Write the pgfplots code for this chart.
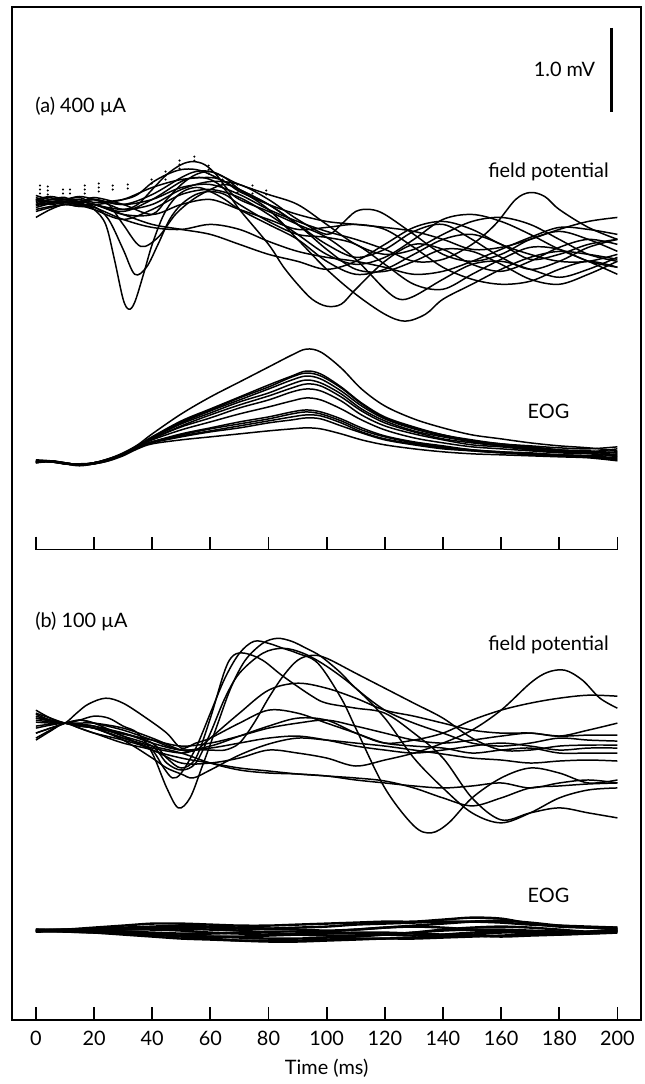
\documentclass[border=0pt]{standalone}
\usepackage{fontspec}
\setmainfont{Lato}
\usepackage{pgfplots}
\pgfplotsset{compat=1.18}
\pgfplotsset{tr/.style={black, line width=0.75pt, smooth, tension=0.55, mark=none},
  te/.style={black, line width=1.2pt, smooth, tension=0.5, mark=none}}
\begin{document}
\begin{tikzpicture}
\begin{axis}[
  width=315.5bp, height=508bp, scale only axis,
  xmin=-8.233, xmax=208.233, ymin=7, ymax=1023, y dir=reverse,
  clip=false,
  axis line style={line width=0.9pt},
  xtick={0,20,...,200}, ytick=\empty,
  xtick pos=bottom, tick align=inside,
  major tick length=6.5bp,
  tick style={line width=0.9pt, black},
  xticklabel style={font=\fontsize{10}{12}\selectfont, yshift=-2bp},
  /pgf/number format/assume math mode=true,
  xlabel={Time (ms)},
  xlabel style={font=\fontsize{10}{12}\selectfont, at={(axis description cs:0.5,0)}, anchor=center, yshift=-24bp},
]
\path (axis cs:-12.35,0) rectangle (axis cs:209.26,1084);
% scale bar and middle time scale
\draw[line width=1.5bp] (axis cs:197.9,28) -- (axis cs:197.9,112);
\draw[line width=0.9pt] (axis cs:0,538) -- (axis cs:0,551) -- (axis cs:200,551) -- (axis cs:200,538);
\pgfplotsinvokeforeach{20,40,60,80,100,120,140,160,180}{\draw[line width=0.9pt] (axis cs:#1,551) -- (axis cs:#1,538);}
% labels
\node[inner sep=0, font=\fontsize{10}{12}\selectfont] at (axis cs:181.8,70) {1.0 mV};
\node[inner sep=0, anchor=west, font=\fontsize{10}{12}\selectfont] at (axis cs:-0.34,107) {(a) 400 µA};
\node[inner sep=0, font=\fontsize{10}{12}\selectfont] at (axis cs:176.3,172) {field potential};
\node[inner sep=0, font=\fontsize{10}{12}\selectfont] at (axis cs:176.3,412) {EOG};
\node[inner sep=0, anchor=west, font=\fontsize{10}{12}\selectfont] at (axis cs:-0.34,623) {(b) 100 µA};
\node[inner sep=0, font=\fontsize{10}{12}\selectfont] at (axis cs:176.3,647) {field potential};
\node[inner sep=0, font=\fontsize{10}{12}\selectfont] at (axis cs:176.3,898) {EOG};

% stimulus artefact dots in (a)
\addplot[only marks, mark=*, mark size=0.3pt, black] coordinates {(1.4,186)(1.4,190)(1.4,194)(4.1,187)(4.1,191)(4.1,195)(9.3,190)(9.3,194)(11.7,190)(11.7,194)(16.8,186)(16.8,190)(16.8,194)(21.6,184)(21.6,188)(21.6,192)(26.4,186)(26.4,190)(31.6,185)(31.6,189)(39.8,180)(39.8,184)(44.6,172)(44.6,176)(44.6,180)(49.4,161)(49.4,165)(49.4,169)(54.5,157)(54.5,161)(59.4,166)(59.4,170)(59.4,174)(64.2,180)(64.2,184)(69.3,185)(69.3,189)(69.3,193)(74.5,186)(74.5,190)(74.5,194)(79.2,191)(79.2,195)};

% (a) field potential
\addplot[tr] coordinates {(0,205)(5,203)(10,200)(15,203)(20,210)(24,225)(27,260)(30,300)(32,310)(34,303)(37,275)(40,245)(44,215)(48,198)(52,190)(56,188)(60,192)(65,200)(70,210)(80,225)(90,240)(100,262)(110,275)(120,270)(130,255)(140,240)(150,235)(160,245)(170,260)(180,255)(190,245)(200,240)};
\addplot[tr] coordinates {(0,200)(5,205)(10,203)(15,205)(20,207)(25,220)(30,250)(34,275)(38,268)(42,245)(46,220)(50,205)(55,195)(60,192)(65,195)(70,205)(80,222)(90,235)(100,238)(110,245)(120,265)(130,285)(140,290)(150,275)(160,260)(170,248)(180,250)(190,262)(200,268)};
\addplot[tr] coordinates {(0,210)(5,207)(10,205)(15,203)(20,200)(25,205)(30,225)(36,247)(42,238)(48,215)(54,200)(60,190)(65,185)(70,190)(80,205)(90,225)(100,245)(110,258)(120,250)(130,232)(140,225)(150,240)(160,258)(170,270)(180,262)(190,248)(200,240)};
\addplot[tr] coordinates {(0,198)(5,202)(10,200)(15,197)(20,200)(25,205)(30,210)(35,205)(40,190)(45,175)(50,165)(54,162)(58,165)(62,175)(66,190)(70,200)(80,212)(90,225)(100,238)(110,260)(120,290)(125,300)(130,297)(140,280)(150,265)(160,262)(170,270)(180,278)(190,270)(200,258)};
\addplot[tr] coordinates {(0,205)(5,200)(10,200)(15,206)(20,205)(30,215)(40,215)(45,200)(50,185)(55,175)(60,172)(65,178)(70,190)(80,210)(90,240)(100,270)(110,295)(120,315)(127,322)(134,315)(140,300)(150,285)(160,270)(170,258)(180,252)(190,255)(200,260)};
\addplot[tr] coordinates {(0,208)(5,204)(10,200)(15,202)(20,205)(30,212)(40,200)(50,182)(55,178)(60,180)(65,190)(70,210)(80,245)(85,267)(90,285)(95,300)(100,307)(105,305)(110,290)(120,262)(130,245)(140,250)(150,265)(160,272)(170,262)(180,248)(190,240)(200,245)};
\addplot[tr] coordinates {(0,202)(5,198)(10,205)(15,202)(20,200)(30,205)(40,200)(50,188)(60,185)(70,195)(80,210)(90,222)(100,232)(110,240)(120,250)(130,262)(140,260)(150,245)(158,225)(165,200)(170,193)(175,197)(180,210)(190,228)(200,240)};
\addplot[tr] coordinates {(0,200)(5,203)(10,202)(15,200)(20,205)(30,210)(40,205)(50,190)(60,182)(70,185)(80,200)(90,220)(100,235)(105,225)(110,212)(115,210)(120,215)(130,235)(140,255)(150,262)(160,255)(170,240)(180,232)(190,240)(200,252)};
\addplot[tr] coordinates {(0,203)(5,200)(10,198)(15,204)(20,200)(30,205)(40,195)(50,178)(55,172)(60,172)(65,178)(70,185)(80,195)(90,205)(100,225)(110,245)(120,255)(130,250)(140,235)(150,222)(160,218)(170,225)(180,240)(190,255)(200,262)};
\addplot[tr] coordinates {(0,196)(5,200)(10,200)(15,198)(20,203)(30,200)(35,195)(40,183)(45,175)(50,170)(55,170)(60,175)(70,190)(80,205)(90,225)(100,250)(110,270)(120,272)(130,262)(140,250)(150,252)(160,265)(170,280)(180,285)(190,275)(200,262)};
\addplot[tr] coordinates {(0,212)(5,208)(10,205)(15,207)(20,208)(30,220)(40,228)(50,230)(60,225)(70,230)(80,242)(90,252)(100,258)(110,262)(120,268)(130,275)(140,272)(150,262)(160,250)(170,238)(180,228)(190,230)(200,235)};
\addplot[tr] coordinates {(0,200)(5,197)(10,200)(15,203)(20,198)(30,205)(40,215)(50,205)(60,200)(70,210)(80,220)(90,230)(100,228)(110,225)(120,230)(130,248)(140,268)(150,280)(160,285)(170,282)(180,270)(190,262)(200,268)};
\addplot[tr] coordinates {(0,206)(5,204)(10,203)(15,206)(20,210)(30,220)(40,210)(50,195)(60,190)(70,198)(80,215)(90,235)(100,255)(110,265)(120,258)(130,240)(140,220)(150,215)(160,222)(170,235)(180,250)(190,262)(200,275)};
\addplot[tr] coordinates {(0,218)(5,210)(10,205)(15,207)(20,205)(30,215)(40,225)(50,230)(60,235)(70,245)(80,255)(90,262)(100,270)(110,262)(120,245)(130,228)(140,222)(150,230)(160,245)(170,255)(180,262)(190,262)(200,255)};
\addplot[tr] coordinates {(0,200)(5,202)(10,202)(15,200)(20,205)(30,200)(40,188)(50,180)(60,178)(65,182)(70,192)(80,205)(90,215)(100,222)(110,225)(120,228)(130,232)(140,240)(150,250)(160,248)(170,240)(180,230)(190,222)(200,218)};

% (a) EOG
\addplot[tr] coordinates {(0,462)(5,463)(10,465)(15,466)(20,464)(25,460)(30,454)(35,446)(40,435)(50,415)(60,398)(70,383)(80,368)(88,356)(93,350)(98,353)(105,369)(112,390)(120,407)(130,420)(140,429)(150,436)(160,440)(170,444)(180,447)(190,449)(200,452)};
\addplot[tr] coordinates {(0,463)(5,462)(10,465)(15,466)(20,464)(25,461)(30,455)(35,447)(40,438)(50,422)(60,410)(70,398)(80,386)(88,377)(93,372)(98,375)(105,388)(112,404)(120,418)(130,428)(140,436)(150,441)(160,445)(170,447)(180,449)(190,450)(200,448)};
\addplot[tr] coordinates {(0,464)(5,462)(10,464)(15,466)(20,465)(25,461)(30,455)(35,447)(40,438)(50,423)(60,411)(70,399)(80,388)(88,378)(93,374)(98,377)(105,389)(112,405)(120,419)(130,429)(140,436)(150,442)(160,445)(170,448)(180,451)(190,452)(200,454)};
\addplot[tr] coordinates {(0,463)(5,463)(10,465)(15,465)(20,464)(25,460)(30,455)(35,448)(40,439)(50,424)(60,412)(70,401)(80,390)(88,381)(93,377)(98,380)(105,392)(112,407)(120,420)(130,430)(140,437)(150,442)(160,446)(170,448)(180,451)(190,453)(200,456)};
\addplot[tr] coordinates {(0,461)(5,462)(10,464)(15,466)(20,464)(25,461)(30,456)(35,447)(40,439)(50,425)(60,414)(70,403)(80,394)(88,385)(93,381)(98,384)(105,395)(112,410)(120,422)(130,432)(140,438)(150,443)(160,447)(170,449)(180,452)(190,453)(200,450)};
\addplot[tr] coordinates {(0,463)(5,462)(10,465)(15,467)(20,465)(25,461)(30,455)(35,448)(40,440)(50,427)(60,416)(70,406)(80,397)(88,389)(93,385)(98,387)(105,398)(112,412)(120,424)(130,433)(140,440)(150,444)(160,447)(170,450)(180,452)(190,454)(200,458)};
\addplot[tr] coordinates {(0,462)(5,463)(10,464)(15,466)(20,464)(25,460)(30,455)(35,447)(40,440)(50,428)(60,419)(70,409)(80,401)(88,393)(93,390)(98,392)(105,402)(112,416)(120,427)(130,435)(140,441)(150,446)(160,448)(170,451)(180,453)(190,454)(200,453)};
\addplot[tr] coordinates {(0,463)(5,462)(10,465)(15,466)(20,465)(25,461)(30,456)(35,448)(40,441)(50,431)(60,423)(70,415)(80,408)(88,402)(93,399)(98,401)(105,410)(112,421)(120,431)(130,439)(140,444)(150,448)(160,450)(170,452)(180,454)(190,455)(200,457)};
\addplot[tr] coordinates {(0,464)(5,463)(10,465)(15,466)(20,464)(25,461)(30,456)(35,449)(40,443)(50,435)(60,429)(70,423)(80,418)(88,413)(93,411)(98,413)(105,420)(112,429)(120,437)(130,443)(140,447)(150,451)(160,453)(170,454)(180,456)(190,457)(200,460)};
\addplot[tr] coordinates {(0,463)(5,462)(10,464)(15,466)(20,464)(25,461)(30,455)(35,448)(40,443)(50,436)(60,430)(70,425)(80,420)(88,415)(93,413)(98,415)(105,422)(112,431)(120,438)(130,444)(140,448)(150,451)(160,453)(170,455)(180,456)(190,457)(200,455)};
\addplot[tr] coordinates {(0,462)(5,463)(10,465)(15,466)(20,465)(25,462)(30,456)(35,449)(40,443)(50,437)(60,432)(70,427)(80,422)(88,418)(93,416)(98,417)(105,424)(112,433)(120,440)(130,445)(140,449)(150,452)(160,454)(170,455)(180,456)(190,457)(200,459)};
\addplot[tr] coordinates {(0,463)(5,463)(10,464)(15,466)(20,464)(25,461)(30,456)(35,449)(40,444)(50,438)(60,433)(70,429)(80,424)(88,421)(93,419)(98,420)(105,427)(112,434)(120,441)(130,446)(140,450)(150,452)(160,454)(170,456)(180,457)(190,458)(200,461)};
\addplot[tr] coordinates {(0,464)(5,462)(10,465)(15,466)(20,465)(25,462)(30,457)(35,450)(40,445)(50,441)(60,438)(70,435)(80,432)(88,430)(93,429)(98,430)(105,435)(112,441)(120,446)(130,450)(140,453)(150,455)(160,456)(170,457)(180,458)(190,459)(200,462)};

% (b) field potential
\addplot[tr] coordinates {(0,712)(5,720)(10,725)(15,722)(20,718)(25,720)(30,728)(35,735)(40,755)(45,790)(49,810)(53,800)(57,770)(62,730)(67,690)(72,662)(78,645)(83,640)(88,643)(93,650)(98,658)(105,675)(110,690)(120,712)(130,725)(140,735)(150,745)(160,748)(170,745)(180,740)(190,742)(200,743)};
\addplot[tr] coordinates {(0,720)(5,722)(10,725)(15,728)(20,730)(25,735)(30,740)(35,745)(40,752)(44,770)(47,780)(50,775)(55,750)(60,715)(65,680)(70,655)(75,643)(80,645)(85,650)(90,655)(97,665)(105,700)(110,730)(120,790)(130,828)(136,835)(142,825)(150,800)(160,780)(170,770)(180,775)(190,785)(200,782)};
\addplot[tr] coordinates {(0,730)(5,727)(10,725)(15,727)(20,730)(30,735)(40,745)(45,760)(50,770)(55,760)(60,720)(65,672)(68,657)(72,655)(78,662)(85,678)(95,698)(100,705)(110,710)(120,715)(130,735)(140,760)(150,800)(160,822)(170,815)(180,810)(190,815)(200,820)};
\addplot[tr] coordinates {(0,728)(5,726)(10,725)(15,730)(20,735)(30,742)(40,750)(50,755)(55,752)(60,752)(65,752)(70,745)(75,725)(80,700)(85,678)(90,662)(95,657)(100,660)(110,675)(120,690)(130,705)(140,720)(150,740)(160,752)(170,752)(180,748)(190,747)(200,747)};
\addplot[tr] coordinates {(0,740)(5,732)(10,725)(15,730)(20,735)(30,745)(40,752)(50,765)(60,765)(70,760)(80,752)(90,755)(100,760)(110,768)(120,762)(130,755)(140,745)(150,732)(160,712)(170,685)(176,674)(182,672)(188,682)(194,700)(200,710)};
\addplot[tr] coordinates {(0,716)(5,722)(10,725)(15,722)(20,725)(30,732)(40,742)(50,752)(60,748)(70,738)(80,728)(90,720)(100,722)(110,735)(120,745)(130,742)(140,735)(150,722)(160,712)(170,705)(180,700)(190,697)(200,698)};
\addplot[tr] coordinates {(0,724)(5,725)(10,725)(15,726)(20,728)(30,735)(40,745)(50,752)(60,750)(70,745)(80,740)(90,738)(100,742)(110,748)(120,752)(130,755)(140,752)(150,748)(160,745)(170,748)(180,752)(190,750)(200,750)};
\addplot[tr] coordinates {(0,720)(5,723)(10,725)(15,727)(20,730)(30,742)(40,760)(45,770)(50,776)(54,780)(60,772)(70,757)(80,746)(90,740)(100,742)(110,745)(120,748)(130,752)(140,756)(150,760)(160,762)(170,765)(180,763)(190,762)(200,763)};
\addplot[tr] coordinates {(0,735)(5,730)(10,725)(15,722)(20,725)(30,738)(40,752)(50,760)(60,765)(70,770)(80,773)(90,776)(100,778)(110,780)(120,783)(130,790)(140,800)(150,808)(160,800)(170,790)(180,788)(190,786)(200,785)};
\addplot[tr] coordinates {(0,735)(5,730)(10,725)(14,715)(18,706)(24,700)(30,705)(38,720)(45,735)(50,750)(55,745)(60,740)(70,725)(80,712)(90,715)(100,725)(110,735)(120,745)(130,748)(140,750)(150,755)(160,752)(170,750)(180,755)(190,755)(200,755)};
\addplot[tr] coordinates {(0,715)(5,720)(10,725)(15,727)(20,728)(30,738)(40,748)(45,765)(50,772)(55,765)(60,735)(65,700)(70,675)(78,655)(85,650)(92,655)(100,668)(110,690)(120,720)(130,760)(140,790)(150,815)(160,825)(170,815)(180,800)(190,792)(200,790)};
\addplot[tr] coordinates {(0,722)(5,724)(10,725)(15,725)(20,725)(30,730)(40,740)(50,752)(55,752)(60,740)(70,715)(80,692)(90,685)(100,690)(110,700)(120,712)(130,718)(140,725)(150,732)(160,735)(170,735)(180,738)(190,737)(200,737)};
\addplot[tr] coordinates {(0,718)(5,722)(10,725)(15,727)(20,730)(30,736)(40,742)(50,748)(60,745)(70,738)(80,730)(90,725)(100,722)(110,728)(120,735)(130,742)(140,745)(150,742)(160,738)(170,735)(180,738)(190,732)(200,725)};
\addplot[tr] coordinates {(0,742)(5,733)(10,725)(15,728)(20,730)(30,740)(40,748)(50,755)(60,765)(70,772)(80,775)(90,776)(100,778)(110,782)(120,785)(130,788)(140,790)(150,788)(160,785)(170,790)(180,785)(190,782)(200,785)};

% (b) EOG
\addplot[te] coordinates {(0,933)(10,933)(20,934)(30,935)(40,937)(50,938)(60,939)(70,940)(80,941)(90,941)(100,940)(110,939)(120,937)(130,935)(140,932)(150,930)(160,929)(170,930)(180,932)(190,934)(200,932)};
\addplot[te] coordinates {(0,932)(10,932)(20,931)(30,930)(40,929)(50,928)(60,929)(70,930)(80,931)(90,932)(100,933)(110,932)(120,930)(130,928)(140,926)(150,924)(160,923)(170,925)(180,928)(190,930)(200,931)};
\addplot[te] coordinates {(0,934)(10,934)(20,935)(30,937)(40,939)(50,941)(60,942)(70,943)(80,943)(90,943)(100,942)(110,941)(120,941)(130,940)(140,939)(150,937)(160,935)(170,934)(180,934)(190,935)(200,934)};
\addplot[te] coordinates {(0,933)(10,932)(20,930)(30,928)(40,926)(50,926)(60,927)(70,928)(80,928)(90,927)(100,926)(110,925)(120,924)(130,924)(140,922)(150,920)(160,921)(170,926)(180,929)(190,930)(200,930)};
\addplot[te] coordinates {(0,933)(10,933)(20,934)(30,934)(40,935)(50,936)(60,936)(70,935)(80,934)(90,934)(100,935)(110,936)(120,937)(130,938)(140,937)(150,935)(160,934)(170,934)(180,935)(190,936)(200,935)};
\addplot[te] coordinates {(0,933)(10,933)(20,932)(30,932)(40,931)(50,931)(60,932)(70,933)(80,935)(90,937)(100,938)(110,938)(120,937)(130,935)(140,933)(150,932)(160,932)(170,933)(180,934)(190,935)(200,933)};
\addplot[te] coordinates {(0,934)(10,933)(20,933)(30,935)(40,937)(50,939)(60,941)(70,943)(80,944)(90,944)(100,943)(110,942)(120,941)(130,941)(140,940)(150,939)(160,938)(170,937)(180,936)(190,934)(200,932)};
\addplot[te] coordinates {(0,932)(10,933)(20,933)(30,932)(40,932)(50,933)(60,935)(70,936)(80,937)(90,936)(100,934)(110,932)(120,930)(130,929)(140,930)(150,932)(160,934)(170,936)(180,937)(190,936)(200,934)};
\addplot[te] coordinates {(0,933)(10,934)(20,935)(30,936)(40,937)(50,938)(60,939)(70,939)(80,938)(90,937)(100,936)(110,935)(120,935)(130,936)(140,937)(150,938)(160,939)(170,938)(180,937)(190,935)(200,933)};
\addplot[te] coordinates {(0,933)(10,932)(20,932)(30,931)(40,930)(50,929)(60,930)(70,931)(80,931)(90,930)(100,929)(110,927)(120,926)(130,925)(140,924)(150,924)(160,925)(170,927)(180,928)(190,929)(200,930)};
\end{axis}
\end{tikzpicture}
\end{document}
